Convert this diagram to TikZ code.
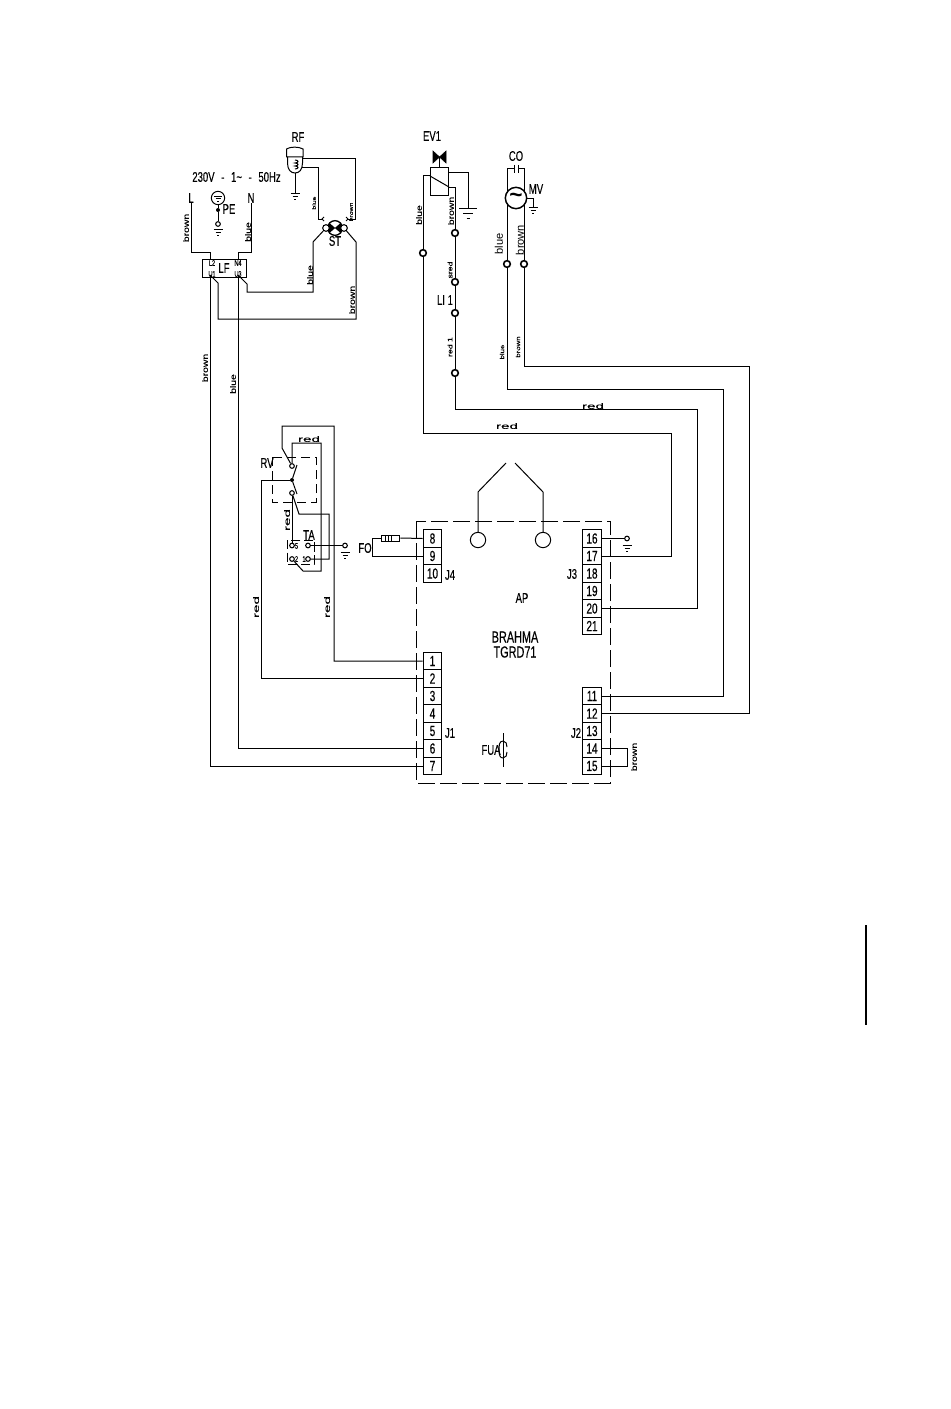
\documentclass[tikz,border=0pt]{standalone}
\usepackage{fontspec}
\usepackage{tikz}
\setmainfont{Liberation Sans}
\newfontfamily\narrowfont[FakeStretch=0.68,FakeBold=0.25]{Liberation Sans}
\newfontfamily\widefont[FakeStretch=1.3,FakeBold=0.3]{Liberation Sans}
\newfontfamily\xwidefont[FakeStretch=1.9,FakeBold=0.3]{Liberation Sans}
\usetikzlibrary{positioning,calc}
\tikzset{
    wire/.style={line width=0.75pt},
    pinbox/.style={draw, line width=0.75pt, minimum width=14pt, minimum height=13.125pt, inner sep=0pt, font=\narrowfont\fontsize{11}{11}\selectfont},
    lbl/.style={inner sep=0pt, font=\narrowfont\fontsize{10.5}{11}\selectfont},
    tinylbl/.style={inner sep=0pt, font=\narrowfont\fontsize{6}{6}\selectfont},
    colour/.style={inner sep=0pt, rotate=90, font=\widefont\fontsize{6}{6}\selectfont},
    redlbl/.style={inner sep=0pt, font=\xwidefont\fontsize{6}{6}\selectfont},
    biglbl/.style={inner sep=0pt, rotate=90, font=\fontsize{8.3}{8.3}\selectfont},
    faston/.style={draw, circle, line width=1.2pt, fill=white, minimum size=5pt, inner sep=0pt},
    smallpt/.style={draw, circle, line width=0.8pt, fill=white, minimum size=3.5pt, inner sep=0pt},
    joint/.style={fill, circle, minimum size=3pt, inner sep=0pt},
    gnd/.pic={
        \draw[wire] (-4.5,0) -- (4.5,0);
        \draw[wire] (-2.5,3) -- (2.5,3);
        \draw[wire] (-1,6) -- (1,6);
    },
    biggnd/.pic={
        \draw[wire] (-9,0) -- (9,0);
        \draw[wire] (-5,5) -- (5,5);
        \draw[wire] (-1.5,10) -- (1.5,10);
    }
}

\begin{document}
\begin{tikzpicture}[x=0.75pt, y=-0.75pt]
    \useasboundingbox[fill=white] (0,0) rectangle (950,1409);
    % Electronic board
    \draw[wire, dash pattern=on 13pt off 3.5pt] (416,521) rectangle (610,783);
    \node[lbl] (ap) at (522,598) {AP};
    \node[inner sep=0pt, font=\narrowfont\fontsize{12}{12}\selectfont] (brahma) at (515,637) {BRAHMA};
    \node[inner sep=0pt, font=\narrowfont\fontsize{12}{12}\selectfont] (tgrd) at (515,652) {TGRD71};
    % Terminals J4
    \node[pinbox] (p8) at (432.5,538.5) {8};
    \node[pinbox] (p9) at (432.5,556) {9};
    \node[pinbox] (p10) at (432.5,573.5) {10};
    \node[lbl] (j4) at (450,575) {J4};
    % Terminals J1
    \node[pinbox] (p1) at (432.5,661) {1};
    \node[pinbox] (p2) at (432.5,678.5) {2};
    \node[pinbox] (p3) at (432.5,696) {3};
    \node[pinbox] (p4) at (432.5,713.5) {4};
    \node[pinbox] (p5) at (432.5,731) {5};
    \node[pinbox] (p6) at (432.5,748.5) {6};
    \node[pinbox] (p7) at (432.5,766) {7};
    \node[lbl] (j1) at (450,733) {J1};
    % Terminals J2
    \node[pinbox] (p11) at (592,696) {11};
    \node[pinbox] (p12) at (592,713.5) {12};
    \node[pinbox] (p13) at (592,731) {13};
    \node[pinbox] (p14) at (592,748.5) {14};
    \node[pinbox] (p15) at (592,766) {15};
    \node[lbl] (j2) at (576,733) {J2};
    % Terminals J3
    \node[pinbox] (p16) at (592,538.5) {16};
    \node[pinbox] (p17) at (592,556) {17};
    \node[pinbox] (p18) at (592,573.5) {18};
    \node[pinbox] (p19) at (592,591) {19};
    \node[pinbox] (p20) at (592,608.5) {20};
    \node[pinbox] (p21) at (592,626) {21};
    \node[lbl] (j3) at (572,574) {J3};
    % Flame sensor
    \node[draw, circle, line width=0.75pt, minimum size=11.5pt, inner sep=0pt] (eleft) at (478,540) {};
    \node[draw, circle, line width=0.75pt, minimum size=11.5pt, inner sep=0pt] (eright) at (543,540) {};
    \coordinate (tipleft) at (506,463);
    \coordinate (tipright) at (515,463);
    \draw[wire] (eleft) -- (478,492) -- (tipleft);
    \draw[wire] (eright) -- (543,492) -- (tipright);
    % Fuse FUA
    \node[lbl] (fua) at (491,750) {FUA};
    \draw[wire] (503,733) -- (503,767);
    \draw[wire] (503,741) .. controls (499,741) and (499,746) .. (499,750) .. controls (499,755) and (500,758) .. (503,758);
    \draw[wire] (503,741) .. controls (506,741) and (507,744) .. (507,747);
    \draw[wire] (503,758) .. controls (506,758) and (507,755) .. (507,752);
    % Mains
    \node[lbl] (mains) at (236.5,177) {230V\hspace{5pt}-\hspace{5pt}1\textasciitilde\hspace{5pt}-\hspace{5pt}50Hz};
    \node[lbl] (lmain) at (191,198) {L};
    \node[lbl] (nmain) at (251,198) {N};
    \node[draw, rectangle, line width=0.75pt, minimum width=33.7pt, minimum height=13.5pt, inner sep=0pt] (lf) at (224.5,268) {};
    \node[lbl] (lflabel) at (224,268) {LF};
    \node[tinylbl] (lfa) at (212,263) {L2};
    \node[tinylbl] (lfb) at (238,263) {N4};
    \node[tinylbl] (lfc) at (212,274) {U1};
    \node[tinylbl] (lfd) at (238,274) {U3};
    \coordinate (lin) at (210,259);
    \coordinate (nin) at (238,259);
    \coordinate (lout) at (210,275);
    \coordinate (nout) at (238,275);
    \draw[wire] (lmain.south) |- (210,252) -- (lin);
    \draw[wire] (nmain.south) |- (238,252) -- (nin);
    \node[colour] (bn1) at (186,228) {brown};
    \node[colour] (bl1) at (248,232) {blue};
    % Earth PE
    \node[draw, circle, line width=0.75pt, minimum size=10pt, inner sep=0pt] (pe) at (218,198) {};
    \draw[wire] (214,196) -- (222,196);
    \draw[wire] (215.5,198.5) -- (220.5,198.5);
    \draw[wire] (217,201) -- (219,201);
    \node[joint] (pejoint) at (218,210) {};
    \node[smallpt] (peend) at (218,224) {};
    \node[lbl] (pelabel) at (229,209) {PE};
    \draw[wire] (pe) -- (pejoint) -- (peend);
    \pic at (218,229) {gnd};
    % Limit thermostat RF
    \node[lbl] (rf) at (298,137) {RF};
    \draw[wire] (286.5,157) -- (286.5,149) .. controls (290,146.5) and (299,146.5) .. (303,149) -- (303,157) -- cycle;
    \draw[wire] (287.5,157) -- (287.5,163) .. controls (287.5,170) and (291,173) .. (295,173) .. controls (299,173) and (302.5,170) .. (302.5,163) -- (302.5,157);
    \draw[wire] (295,160) .. controls (299,160) and (299,163) .. (295,163) .. controls (299,163) and (299,166) .. (295,166) .. controls (299,166) and (299,169) .. (295,169);
    \coordinate (rfa) at (303,158.5);
    \coordinate (rfb) at (302,168);
    \coordinate (rfg) at (295,173);
    \draw[wire] (rfg) -- (295,193);
    \pic at (295,193) {gnd};
    % Safety thermostat ST
    \node[draw, circle, line width=1pt, minimum size=11pt, inner sep=0pt] (st) at (335,228) {};
    \fill (329,222.5) -- (341,233.5) -- (341,222.5) -- (329,233.5) -- cycle;
    \fill (329,224) -- (335,228) -- (329,232) -- (327.5,228) -- cycle;
    \fill (341,224) -- (335,228) -- (341,232) -- (342.5,228) -- cycle;
    \node[smallpt, minimum size=5pt] (sta) at (326,228) {};
    \node[smallpt, minimum size=5pt] (stb) at (344,228) {};
    \node[lbl] (stlabel) at (335,241) {ST};
    \draw[wire] (rfb) -| (318,219) -- (323,219);
    \draw[wire] (rfa) -| (355,219) -- (347,219);
    \draw[wire] (324,217) -- (322,219) -- (324,221);
    \draw[wire] (346,217) -- (348,219) -- (346,221);
    \draw[wire] (sta) -- (313,242) -- (313,292) -- (247,292) -- (247,284) -- (nout);
    \draw[wire] (stb) -- (356,242) -- (356,319) -- (218,319) -- (218,283) -- (lout);
    \node[colour, font=\widefont\fontsize{4}{4}\selectfont] (bl2) at (314,203) {blue};
    \node[colour, font=\widefont\fontsize{4}{4}\selectfont] (bn2) at (351,212) {brown};
    \node[colour] (bl3) at (310,275) {blue};
    \node[colour] (bn3) at (352,300) {brown};
    \node[colour] (bn4) at (205,368) {brown};
    \node[colour] (bl4) at (233,384) {blue};
    % Lines to the board
    \draw[wire] (lout) |- (p7.west);
    \draw[wire] (nout) |- (p6.west);
    % Gas valve EV1
    \node[lbl] (ev) at (432,136) {EV1};
    \draw[fill=black] (433,151) -- (446,163) -- (446,151) -- (433,163) -- cycle;
    \node[draw, rectangle, line width=0.75pt, minimum width=14.2pt, minimum height=21.7pt, inner sep=0pt] (coil) at (439.5,181.5) {};
    \coordinate (coilleft) at (430,176);
    \coordinate (coilright) at (449,187);
    \draw[wire] (439.5,157) -- (coil.north);
    \draw[wire] (coilleft) -- (coilright);
    \draw[wire] (449,173) -| (468,208);
    \pic at (468,208) {biggnd};
    \node[faston] (blueend) at (423,253) {};
    \node[faston] (evb) at (455,233) {};
    \node[faston] (lia) at (455,282) {};
    \node[faston] (lib) at (455,313) {};
    \node[faston] (lic) at (455,373) {};
    \draw[wire] (coilleft) -| (blueend);
    \draw[wire] (coilright) -| (evb);
    \draw[wire] (evb) -- (lia);
    \draw[wire] (lia) -- (lib);
    \draw[wire] (lib) -- (lic);
    \draw[wire] (blueend) |- (671,433) |- (p17.east);
    \draw[wire] (lic) |- (697,409) |- (p20.east);
    \node[colour] (bl5) at (419,215) {blue};
    \node[colour] (bn5) at (451,211) {brown};
    \node[colour, font=\widefont\fontsize{5}{5}\selectfont] (sred) at (450,270) {sred};
    \node[lbl] (li) at (445,300) {LI 1};
    \node[colour, font=\widefont\fontsize{5}{5}\selectfont] (rd1) at (450,347) {red 1};
    \node[redlbl] (rd2) at (593,406) {red};
    \node[redlbl] (rd3) at (507,426) {red};
    % Fan MV and capacitor CO
    \node[lbl] (co) at (516,156) {CO};
    \node[lbl] (mv) at (536,189) {MV};
    \node[draw, circle, line width=1.1pt, minimum size=16pt, inner sep=0pt] (fan) at (516,198) {};
    \node[inner sep=0pt, font=\bfseries\fontsize{17}{17}\selectfont] (fantilde) at (516,198) {\textasciitilde};
    \node[faston] (fana) at (507,264) {};
    \node[faston] (fanb) at (524,264) {};
    \draw[wire] (507,192) -- (507,169) -- (514,169);
    \draw[wire] (524,192) -- (524,169) -- (518,169);
    \draw[wire] (514,165) -- (514,173);
    \draw[wire] (518,165) -- (518,173);
    \draw[wire] (507,204) -- (fana);
    \draw[wire] (524,204) -- (fanb);
    \draw[wire] (fan.east) -- (533,198) -- (533,207);
    \pic at (533,207) {gnd};
    \draw[wire] (fana) |- (723,389) |- (p11.east);
    \draw[wire] (fanb) |- (749,366) |- (p12.east);
    \node[biglbl] (bl6) at (499,244) {blue};
    \node[biglbl] (bn6) at (520,240) {brown};
    \node[colour, font=\widefont\fontsize{4.5}{4.5}\selectfont] (bl7) at (502,352) {blue};
    \node[colour, font=\widefont\fontsize{4.5}{4.5}\selectfont] (bn7) at (518,347) {brown};
    % Jumper and earth of the board
    \coordinate (jump) at (627,748.5);
    \draw[wire] (p14.east) -- (jump) -- (627,766) -- (p15.east);
    \node[colour] (bn8) at (634,757) {brown};
    \node[smallpt] (gnda) at (627,538.5) {};
    \draw[wire] (p16.east) -- (gnda);
    \pic at (627,545) {gnd};
    % Room switch RV
    \draw[wire, dash pattern=on 7pt off 3.5pt] (272,457) rectangle (316,502);
    \node[lbl] (rv) at (267,463) {RV};
    \node[smallpt] (rva) at (292,466) {};
    \node[joint] (rvb) at (292,480) {};
    \node[smallpt] (rvc) at (292,493) {};
    \draw[wire] (rvb) -- (297,465);
    \draw[wire] (rvb) -- (297,494);
    \draw[wire] (rva) -- (282,448) -- (282,426) -| (334,661) -- (p1.west);
    \draw[wire] (rvb) -| (261,678.5) -- (p2.west);
    \node[redlbl] (rd4) at (309,439) {red};
    \node[redlbl, rotate=90] (rd5) at (287,520) {red};
    \node[redlbl, rotate=90] (rd6) at (256,607) {red};
    \node[redlbl, rotate=90] (rd7) at (327,607) {red};
    % Thermostat TA
    \draw[wire, dash pattern=on 7pt off 2.5pt] (287,540) rectangle (314,564);
    \node[lbl] (ta) at (309,535) {TA};
    \node[smallpt] (taa) at (292,545.5) {};
    \node[smallpt] (tab) at (308,545.5) {};
    \node[smallpt] (tac) at (292,559) {};
    \node[smallpt] (tad) at (308,559) {};
    \node[tinylbl] (taaa) at (296.5,546) {5};
    \node[tinylbl] (tacc) at (296.5,559) {2};
    \node[tinylbl] (tadd) at (304,559) {1};
    \node[smallpt] (gndb) at (345,545.5) {};
    \draw[wire] (rva) -- (292,443) -- (321,443) -- (321,571) -- (303,571) -- (tac);
    \draw[wire] (rvc) -- (299,514) -- (329,514) -- (329,559) -- (tad);
    \draw[wire] (rvc) -- (taa);
    \draw[wire] (tab) -- (gndb);
    \pic at (345,552) {gnd};
    % Flame sensor FO
    \node[lbl] (fo) at (365,548) {FO};
    \node[draw, rectangle, line width=0.75pt, minimum width=14pt, minimum height=4.5pt, inner sep=0pt] (res) at (390.5,538) {};
    \draw[wire] (385,535) -- (385,541);
    \draw[wire] (388,535) -- (388,541);
    \draw[wire] (391,535) -- (391,541);
    \draw[wire] (res.east) -- (p8.west);
    \draw[wire] (res.west) -- (372,538) |- (p9.west);
    % Page mark
    \draw[line width=1.5pt] (866,925) -- (866,1025);
\end{tikzpicture}
\end{document}
